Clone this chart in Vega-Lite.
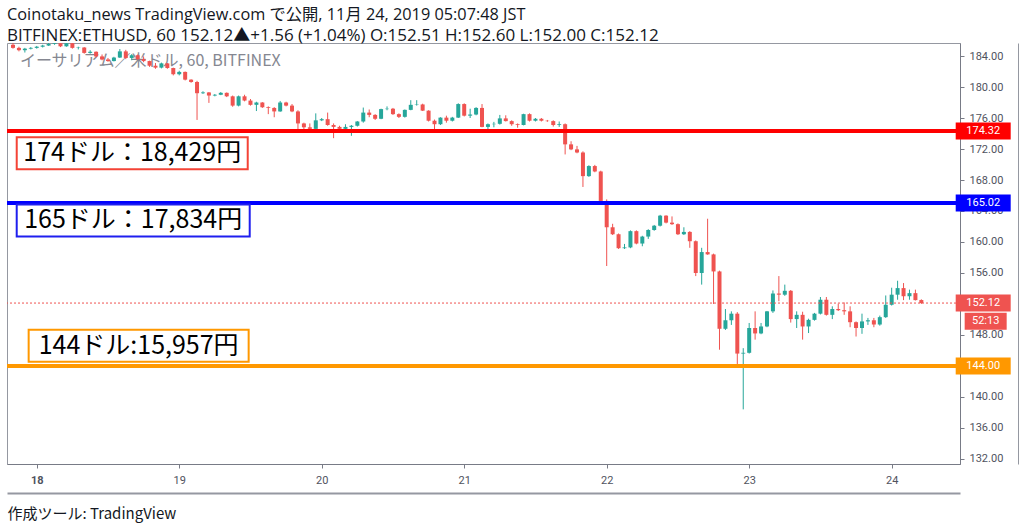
{
"$schema": "https://vega.github.io/schema/vega-lite/v6.json",
"width": 953, "height": 421,
"autosize": {"type": "none"},
"padding": {"left": 7, "top": 43, "right": 64, "bottom": 66},
"background": "white",
"title": {"text": "Coinotaku_news TradingView.com で公開, 11月 24, 2019 05:07:48 JST", "subtitle": "BITFINEX:ETHUSD, 60 152.12▲+1.56 (+1.04%) O:152.51 H:152.60 L:152.00 C:152.12", "anchor": "start", "frame": "group", "font": "Open Sans, Noto Sans CJK JP", "fontSize": 16.3, "fontWeight": "normal", "color": "#131722", "subtitleFont": "Open Sans, Noto Sans CJK JP", "subtitleFontSize": 17, "subtitleColor": "#131722", "subtitlePadding": 5, "offset": -1},
"datasets": {
"candles": [
{"t":"2019-11-17T20:00:00Z","open":185.45,"high":185.7,"low":184.95,"close":185.05},
{"t":"2019-11-17T21:00:00Z","open":185.05,"high":185.2,"low":184.6,"close":184.75},
{"t":"2019-11-17T22:00:00Z","open":184.75,"high":185.05,"low":184.45,"close":184.95},
{"t":"2019-11-17T23:00:00Z","open":184.95,"high":185.15,"low":184.85,"close":185.05},
{"t":"2019-11-18T00:00:00Z","open":185.05,"high":185.3,"low":184.95,"close":185.2},
{"t":"2019-11-18T01:00:00Z","open":185.2,"high":185.45,"low":185.1,"close":185.35},
{"t":"2019-11-18T02:00:00Z","open":185.35,"high":185.7,"low":185.3,"close":185.55},
{"t":"2019-11-18T03:00:00Z","open":185.55,"high":185.8,"low":185.45,"close":185.65},
{"t":"2019-11-18T04:00:00Z","open":185.65,"high":185.8,"low":185.15,"close":185.25},
{"t":"2019-11-18T05:00:00Z","open":185.25,"high":185.8,"low":185.2,"close":185.65},
{"t":"2019-11-18T06:00:00Z","open":185.65,"high":185.75,"low":184.95,"close":185.05},
{"t":"2019-11-18T07:00:00Z","open":185.05,"high":185.2,"low":184.85,"close":185.1},
{"t":"2019-11-18T08:00:00Z","open":185.1,"high":185.15,"low":184.3,"close":184.4},
{"t":"2019-11-18T09:00:00Z","open":184.4,"high":184.75,"low":184.3,"close":184.55},
{"t":"2019-11-18T10:00:00Z","open":184.55,"high":184.6,"low":183.8,"close":183.95},
{"t":"2019-11-18T11:00:00Z","open":183.95,"high":184.2,"low":183.45,"close":183.55},
{"t":"2019-11-18T12:00:00Z","open":183.55,"high":183.75,"low":183.25,"close":183.35},
{"t":"2019-11-18T13:00:00Z","open":183.35,"high":183.9,"low":183.3,"close":183.8},
{"t":"2019-11-18T14:00:00Z","open":183.8,"high":184.9,"low":183.75,"close":184.6},
{"t":"2019-11-18T15:00:00Z","open":184.6,"high":184.8,"low":183.6,"close":183.75},
{"t":"2019-11-18T16:00:00Z","open":183.75,"high":184.25,"low":183.45,"close":184.1},
{"t":"2019-11-18T17:00:00Z","open":184.1,"high":184.2,"low":183.5,"close":183.6},
{"t":"2019-11-18T18:00:00Z","open":183.6,"high":183.95,"low":183.2,"close":183.35},
{"t":"2019-11-18T19:00:00Z","open":183.35,"high":183.4,"low":182.6,"close":182.75},
{"t":"2019-11-18T20:00:00Z","open":182.75,"high":183.1,"low":182.35,"close":182.5},
{"t":"2019-11-18T21:00:00Z","open":182.5,"high":183.15,"low":182.4,"close":183.05},
{"t":"2019-11-18T22:00:00Z","open":183.05,"high":183.1,"low":182.35,"close":182.45},
{"t":"2019-11-18T23:00:00Z","open":182.45,"high":182.5,"low":181.5,"close":181.65},
{"t":"2019-11-19T00:00:00Z","open":181.65,"high":182.1,"low":181.5,"close":181.95},
{"t":"2019-11-19T01:00:00Z","open":181.95,"high":182.0,"low":180.85,"close":180.95},
{"t":"2019-11-19T02:00:00Z","open":180.95,"high":181.0,"low":180.55,"close":180.65},
{"t":"2019-11-19T03:00:00Z","open":180.65,"high":180.8,"low":175.75,"close":179.2},
{"t":"2019-11-19T04:00:00Z","open":179.2,"high":179.45,"low":179.1,"close":179.3},
{"t":"2019-11-19T05:00:00Z","open":179.3,"high":179.35,"low":177.95,"close":178.9},
{"t":"2019-11-19T06:00:00Z","open":178.9,"high":179.1,"low":178.8,"close":179.0},
{"t":"2019-11-19T07:00:00Z","open":179.0,"high":179.35,"low":178.95,"close":179.25},
{"t":"2019-11-19T08:00:00Z","open":179.25,"high":179.3,"low":178.7,"close":178.8},
{"t":"2019-11-19T09:00:00Z","open":178.8,"high":178.9,"low":177.45,"close":177.6},
{"t":"2019-11-19T10:00:00Z","open":177.6,"high":178.9,"low":177.5,"close":178.8},
{"t":"2019-11-19T11:00:00Z","open":178.8,"high":179.0,"low":178.15,"close":178.25},
{"t":"2019-11-19T12:00:00Z","open":178.25,"high":178.45,"low":177.6,"close":177.7},
{"t":"2019-11-19T13:00:00Z","open":177.7,"high":178.1,"low":176.9,"close":178.0},
{"t":"2019-11-19T14:00:00Z","open":178.0,"high":178.05,"low":177.3,"close":177.4},
{"t":"2019-11-19T15:00:00Z","open":177.4,"high":177.5,"low":176.5,"close":177.3},
{"t":"2019-11-19T16:00:00Z","open":177.3,"high":177.4,"low":176.1,"close":176.85},
{"t":"2019-11-19T17:00:00Z","open":176.85,"high":178.2,"low":176.8,"close":178.0},
{"t":"2019-11-19T18:00:00Z","open":178.0,"high":178.1,"low":177.5,"close":177.6},
{"t":"2019-11-19T19:00:00Z","open":177.6,"high":177.8,"low":176.75,"close":176.85},
{"t":"2019-11-19T20:00:00Z","open":176.85,"high":177.0,"low":174.35,"close":175.3},
{"t":"2019-11-19T21:00:00Z","open":175.3,"high":175.4,"low":174.35,"close":174.8},
{"t":"2019-11-19T22:00:00Z","open":174.8,"high":175.3,"low":174.35,"close":174.6},
{"t":"2019-11-19T23:00:00Z","open":174.6,"high":176.6,"low":174.5,"close":175.7},
{"t":"2019-11-20T00:00:00Z","open":175.7,"high":176.0,"low":175.6,"close":175.85},
{"t":"2019-11-20T01:00:00Z","open":175.85,"high":176.7,"low":175.0,"close":175.1},
{"t":"2019-11-20T02:00:00Z","open":175.1,"high":175.3,"low":173.4,"close":174.85},
{"t":"2019-11-20T03:00:00Z","open":174.85,"high":175.0,"low":174.45,"close":174.6},
{"t":"2019-11-20T04:00:00Z","open":174.6,"high":175.2,"low":174.5,"close":174.85},
{"t":"2019-11-20T05:00:00Z","open":174.85,"high":175.1,"low":173.7,"close":175.0},
{"t":"2019-11-20T06:00:00Z","open":175.0,"high":175.6,"low":174.9,"close":175.55},
{"t":"2019-11-20T07:00:00Z","open":175.55,"high":177.35,"low":175.4,"close":176.7},
{"t":"2019-11-20T08:00:00Z","open":176.7,"high":177.1,"low":176.1,"close":176.4},
{"t":"2019-11-20T09:00:00Z","open":176.4,"high":176.5,"low":175.75,"close":175.9},
{"t":"2019-11-20T10:00:00Z","open":175.9,"high":177.2,"low":175.85,"close":177.15},
{"t":"2019-11-20T11:00:00Z","open":177.15,"high":177.5,"low":177.0,"close":177.2},
{"t":"2019-11-20T12:00:00Z","open":177.2,"high":177.3,"low":176.4,"close":176.5},
{"t":"2019-11-20T13:00:00Z","open":176.5,"high":176.6,"low":176.0,"close":176.15},
{"t":"2019-11-20T14:00:00Z","open":176.15,"high":177.1,"low":176.05,"close":177.05},
{"t":"2019-11-20T15:00:00Z","open":177.05,"high":178.3,"low":177.0,"close":177.7},
{"t":"2019-11-20T16:00:00Z","open":177.7,"high":178.3,"low":177.6,"close":177.75},
{"t":"2019-11-20T17:00:00Z","open":177.75,"high":177.85,"low":176.9,"close":176.95},
{"t":"2019-11-20T18:00:00Z","open":176.95,"high":177.0,"low":175.55,"close":175.65},
{"t":"2019-11-20T19:00:00Z","open":175.65,"high":175.8,"low":174.55,"close":175.2},
{"t":"2019-11-20T20:00:00Z","open":175.2,"high":176.1,"low":175.1,"close":176.05},
{"t":"2019-11-20T21:00:00Z","open":176.05,"high":176.3,"low":175.4,"close":175.65},
{"t":"2019-11-20T22:00:00Z","open":175.65,"high":176.15,"low":175.55,"close":176.05},
{"t":"2019-11-20T23:00:00Z","open":176.05,"high":177.9,"low":176.0,"close":177.8},
{"t":"2019-11-21T00:00:00Z","open":177.8,"high":177.9,"low":176.2,"close":176.3},
{"t":"2019-11-21T01:00:00Z","open":176.3,"high":177.2,"low":176.0,"close":176.45},
{"t":"2019-11-21T02:00:00Z","open":176.45,"high":177.4,"low":176.35,"close":177.3},
{"t":"2019-11-21T03:00:00Z","open":177.3,"high":177.8,"low":174.8,"close":174.85},
{"t":"2019-11-21T04:00:00Z","open":174.85,"high":175.3,"low":174.1,"close":175.2},
{"t":"2019-11-21T05:00:00Z","open":175.2,"high":175.5,"low":174.8,"close":175.25},
{"t":"2019-11-21T06:00:00Z","open":175.25,"high":176.4,"low":175.15,"close":175.95},
{"t":"2019-11-21T07:00:00Z","open":175.95,"high":176.35,"low":175.55,"close":175.6},
{"t":"2019-11-21T08:00:00Z","open":175.6,"high":175.7,"low":175.0,"close":175.2},
{"t":"2019-11-21T09:00:00Z","open":175.2,"high":175.3,"low":174.75,"close":175.1},
{"t":"2019-11-21T10:00:00Z","open":175.1,"high":176.55,"low":175.05,"close":176.5},
{"t":"2019-11-21T11:00:00Z","open":176.5,"high":176.6,"low":175.55,"close":175.65},
{"t":"2019-11-21T12:00:00Z","open":175.65,"high":176.0,"low":175.55,"close":175.9},
{"t":"2019-11-21T13:00:00Z","open":175.9,"high":176.0,"low":175.55,"close":175.65},
{"t":"2019-11-21T14:00:00Z","open":175.65,"high":175.75,"low":175.5,"close":175.6},
{"t":"2019-11-21T15:00:00Z","open":175.6,"high":175.7,"low":174.9,"close":175.1},
{"t":"2019-11-21T16:00:00Z","open":175.1,"high":175.55,"low":174.85,"close":175.2},
{"t":"2019-11-21T17:00:00Z","open":175.2,"high":175.3,"low":171.3,"close":172.6},
{"t":"2019-11-21T18:00:00Z","open":172.6,"high":173.0,"low":171.85,"close":171.95},
{"t":"2019-11-21T19:00:00Z","open":171.95,"high":172.4,"low":171.45,"close":171.55},
{"t":"2019-11-21T20:00:00Z","open":171.55,"high":171.7,"low":167.1,"close":168.5},
{"t":"2019-11-21T21:00:00Z","open":168.5,"high":169.9,"low":168.4,"close":169.8},
{"t":"2019-11-21T22:00:00Z","open":169.8,"high":169.95,"low":169.0,"close":169.1},
{"t":"2019-11-21T23:00:00Z","open":169.1,"high":169.2,"low":164.8,"close":165.3},
{"t":"2019-11-22T00:00:00Z","open":165.3,"high":165.5,"low":156.9,"close":161.9},
{"t":"2019-11-22T01:00:00Z","open":161.9,"high":162.35,"low":160.9,"close":161.0},
{"t":"2019-11-22T02:00:00Z","open":161.0,"high":161.1,"low":159.1,"close":159.2},
{"t":"2019-11-22T03:00:00Z","open":159.2,"high":159.75,"low":159.1,"close":159.3},
{"t":"2019-11-22T04:00:00Z","open":159.3,"high":161.5,"low":159.2,"close":161.4},
{"t":"2019-11-22T05:00:00Z","open":161.4,"high":161.5,"low":159.7,"close":159.8},
{"t":"2019-11-22T06:00:00Z","open":159.8,"high":160.8,"low":159.45,"close":160.7},
{"t":"2019-11-22T07:00:00Z","open":160.7,"high":161.65,"low":160.4,"close":161.55},
{"t":"2019-11-22T08:00:00Z","open":161.55,"high":162.2,"low":161.45,"close":162.1},
{"t":"2019-11-22T09:00:00Z","open":162.1,"high":163.5,"low":162.0,"close":163.4},
{"t":"2019-11-22T10:00:00Z","open":163.4,"high":163.45,"low":162.4,"close":162.5},
{"t":"2019-11-22T11:00:00Z","open":162.5,"high":163.3,"low":162.2,"close":162.3},
{"t":"2019-11-22T12:00:00Z","open":162.3,"high":162.4,"low":160.9,"close":161.0},
{"t":"2019-11-22T13:00:00Z","open":161.0,"high":161.9,"low":160.9,"close":161.3},
{"t":"2019-11-22T14:00:00Z","open":161.3,"high":161.4,"low":159.25,"close":160.1},
{"t":"2019-11-22T15:00:00Z","open":160.1,"high":160.2,"low":155.6,"close":156.0},
{"t":"2019-11-22T16:00:00Z","open":156.0,"high":159.25,"low":154.5,"close":158.7},
{"t":"2019-11-22T17:00:00Z","open":158.7,"high":163.0,"low":158.35,"close":158.4},
{"t":"2019-11-22T18:00:00Z","open":158.4,"high":158.5,"low":152.0,"close":156.2},
{"t":"2019-11-22T19:00:00Z","open":156.2,"high":156.3,"low":146.1,"close":148.8},
{"t":"2019-11-22T20:00:00Z","open":148.8,"high":151.35,"low":148.65,"close":149.9},
{"t":"2019-11-22T21:00:00Z","open":149.9,"high":151.05,"low":149.3,"close":150.75},
{"t":"2019-11-22T22:00:00Z","open":150.75,"high":150.95,"low":144.15,"close":145.6},
{"t":"2019-11-22T23:00:00Z","open":145.6,"high":146.3,"low":138.4,"close":145.7},
{"t":"2019-11-23T00:00:00Z","open":145.7,"high":149.55,"low":145.6,"close":148.9},
{"t":"2019-11-23T01:00:00Z","open":148.9,"high":151.05,"low":147.4,"close":148.2},
{"t":"2019-11-23T02:00:00Z","open":148.2,"high":149.55,"low":148.1,"close":149.1},
{"t":"2019-11-23T03:00:00Z","open":149.1,"high":151.1,"low":149.0,"close":151.05},
{"t":"2019-11-23T04:00:00Z","open":151.05,"high":153.75,"low":150.85,"close":153.35},
{"t":"2019-11-23T05:00:00Z","open":153.35,"high":155.6,"low":152.35,"close":153.2},
{"t":"2019-11-23T06:00:00Z","open":153.2,"high":154.5,"low":153.05,"close":153.7},
{"t":"2019-11-23T07:00:00Z","open":153.7,"high":153.8,"low":149.6,"close":150.05},
{"t":"2019-11-23T08:00:00Z","open":150.05,"high":151.05,"low":148.9,"close":150.6},
{"t":"2019-11-23T09:00:00Z","open":150.6,"high":151.0,"low":147.4,"close":149.1},
{"t":"2019-11-23T10:00:00Z","open":149.1,"high":150.1,"low":148.25,"close":149.95},
{"t":"2019-11-23T11:00:00Z","open":149.95,"high":150.85,"low":149.85,"close":150.75},
{"t":"2019-11-23T12:00:00Z","open":150.75,"high":152.9,"low":150.65,"close":152.55},
{"t":"2019-11-23T13:00:00Z","open":152.55,"high":152.9,"low":150.5,"close":150.6},
{"t":"2019-11-23T14:00:00Z","open":150.6,"high":151.7,"low":150.05,"close":151.35},
{"t":"2019-11-23T15:00:00Z","open":151.35,"high":152.05,"low":151.1,"close":151.2},
{"t":"2019-11-23T16:00:00Z","open":151.2,"high":152.2,"low":150.6,"close":151.05},
{"t":"2019-11-23T17:00:00Z","open":151.05,"high":151.7,"low":149.0,"close":149.65},
{"t":"2019-11-23T18:00:00Z","open":149.65,"high":149.75,"low":147.8,"close":148.9},
{"t":"2019-11-23T19:00:00Z","open":148.9,"high":150.75,"low":148.15,"close":149.75},
{"t":"2019-11-23T20:00:00Z","open":149.75,"high":150.2,"low":149.3,"close":149.9},
{"t":"2019-11-23T21:00:00Z","open":149.9,"high":150.2,"low":149.0,"close":149.35},
{"t":"2019-11-23T22:00:00Z","open":149.35,"high":150.5,"low":149.2,"close":150.3},
{"t":"2019-11-23T23:00:00Z","open":150.3,"high":153.1,"low":150.2,"close":151.9},
{"t":"2019-11-24T00:00:00Z","open":151.9,"high":154.1,"low":151.8,"close":153.2},
{"t":"2019-11-24T01:00:00Z","open":153.2,"high":155.0,"low":152.55,"close":154.05},
{"t":"2019-11-24T02:00:00Z","open":154.05,"high":154.7,"low":152.5,"close":153.0},
{"t":"2019-11-24T03:00:00Z","open":153.0,"high":153.85,"low":152.55,"close":153.4},
{"t":"2019-11-24T04:00:00Z","open":153.4,"high":153.85,"low":152.45,"close":152.5},
{"t":"2019-11-24T05:00:00Z","open":152.51,"high":152.6,"low":152.0,"close":152.12}
]
},
"encoding": {
  "x": {"type": "temporal",
    "scale": {"type": "utc", "domain": [{"year": 2019, "month": 11, "date": 17, "hours": 19, "minutes": 50, "utc": true}, {"year": 2019, "month": 11, "date": 24, "hours": 10, "minutes": 40, "utc": true}]},
    "axis": null},
  "y": {"type": "quantitative",
    "scale": {"domain": [131.35, 185.68], "nice": false, "zero": false},
    "axis": null}
},
"resolve": {"axis": {"x": "independent", "y": "independent"}},
"layer": [
{"data": {"values": [{"t": "2019-11-17T21:10:00Z", "price": 183.35, "label": "イーサリアム／米ドル, 60, BITFINEX"}]},
 "mark": {"type": "text", "font": "Noto Sans CJK JP", "fontSize": 16, "color": "#787b86", "opacity": 0.9, "align": "left", "baseline": "middle"},
 "encoding": {
  "x": {"field": "t", "type": "temporal", "axis": {"orient": "bottom", "offset": 29, "labels": false, "ticks": false, "grid": false, "title": null, "domainColor": "#9598a1", "domainWidth": 2}},
  "y": {"field": "price", "type": "quantitative", "axis": {"orient": "right", "offset": 58, "labels": false, "ticks": false, "grid": false, "title": null, "domainColor": "#9598a1", "domainWidth": 1}},
  "text": {"field": "label"}}},
{"data": {"name": "candles"},
 "mark": {"type": "rule", "clip": true, "strokeWidth": 1},
 "encoding": {
  "x": {"field": "t", "type": "temporal",
    "axis": {"orient": "bottom", "values": [{"year": 2019, "month": 11, "date": 18, "utc": true}, {"year": 2019, "month": 11, "date": 19, "utc": true}, {"year": 2019, "month": 11, "date": 20, "utc": true}, {"year": 2019, "month": 11, "date": 21, "utc": true}, {"year": 2019, "month": 11, "date": 22, "utc": true}, {"year": 2019, "month": 11, "date": 23, "utc": true}, {"year": 2019, "month": 11, "date": 24, "utc": true}],
      "labelExpr": "utcFormat(datum.value, '%-d')",
      "labelFontWeight": {"condition": {"test": "utcdate(datum.value) === 18", "value": "bold"}, "value": "normal"},
      "title": "作成ツール: TradingView", "titleAnchor": "start", "titleAlign": "left", "titleFont": "Noto Sans CJK JP", "titleFontSize": 15, "titleFontWeight": "normal", "titleColor": "#131722", "titlePadding": 21,
      "labelFont": "Roboto", "labelFontSize": 11, "labelColor": "#50535e", "labelPadding": 6, "labelOverlap": false,
      "tickSize": 4, "tickColor": "#787b86", "domainColor": "#787b86", "gridColor": "#e9eef3"}},
  "y": {"field": "low", "type": "quantitative",
    "axis": {"orient": "right", "values": [132, 136, 140, 148, 156, 160, 164, 168, 172, 176, 180, 184], "format": ".2f", "title": null,
      "labelFont": "Roboto", "labelFontSize": 11, "labelColor": "#50535e", "labelPadding": 5, "labelOverlap": false, "labelSeparation": 0,
      "tickSize": 4, "tickColor": "#787b86", "domainColor": "#787b86", "gridColor": "#e9eef3"}},
  "y2": {"field": "high"},
  "color": {"condition": {"test": "datum.close >= datum.open", "value": "#26a69a"}, "value": "#ef5350"}
 }},
{"data": {"name": "candles"},
 "mark": {"type": "bar", "clip": true, "width": 4},
 "encoding": {
  "x": {"field": "t", "type": "temporal", "axis": null},
  "y": {"field": "open", "type": "quantitative", "axis": null},
  "y2": {"field": "close"},
  "color": {"condition": {"test": "datum.close >= datum.open", "value": "#26a69a"}, "value": "#ef5350"}
 }},
{"data": {"values": [{"price": 152.12}]},
 "mark": {"type": "rule", "color": "#ef5350", "strokeWidth": 1, "strokeDash": [2, 2]},
 "encoding": {"x": null, "y": {"field": "price", "type": "quantitative", "axis": null}}},
{"data": {"values": [{"price": 174.32, "lvl": "r"}, {"price": 165.02, "lvl": "b"}, {"price": 144.0, "lvl": "o"}]},
 "mark": {"type": "rule", "strokeWidth": 4},
 "encoding": {"x": null, "y": {"field": "price", "type": "quantitative", "axis": null},
  "color": {"field": "lvl", "type": "nominal", "scale": {"domain": ["r", "b", "o", "p"], "range": ["#ff0000", "#0000ff", "#ff9800", "#ef5350"]}, "legend": null}}},
{"data": {"values": [{"t": "2019-11-18T16:05:00Z", "price": 171.45}]},
 "mark": {"type": "tick", "orient": "vertical", "thickness": 231, "size": 32, "filled": true, "fill": "#ffffff", "stroke": "#f44336", "strokeWidth": 2, "opacity": 1},
 "encoding": {"x": {"field": "t", "type": "temporal", "axis": null}, "y": {"field": "price", "type": "quantitative", "axis": null}}},
{"data": {"values": [{"t": "2019-11-18T16:15:00Z", "price": 162.78}]},
 "mark": {"type": "tick", "orient": "vertical", "thickness": 233, "size": 32, "filled": true, "fill": "#ffffff", "stroke": "#1f1fef", "strokeWidth": 2, "opacity": 1},
 "encoding": {"x": {"field": "t", "type": "temporal", "axis": null}, "y": {"field": "price", "type": "quantitative", "axis": null}}},
{"data": {"values": [{"t": "2019-11-18T17:10:00Z", "price": 146.61}]},
 "mark": {"type": "tick", "orient": "vertical", "thickness": 220, "size": 32, "filled": true, "fill": "#ffffff", "stroke": "#ff9800", "strokeWidth": 2, "opacity": 1},
 "encoding": {"x": {"field": "t", "type": "temporal", "axis": null}, "y": {"field": "price", "type": "quantitative", "axis": null}}},
{"data": {"values": [
  {"t": "2019-11-18T16:05:00Z", "price": 171.45, "label": "174ドル：18,429円"},
  {"t": "2019-11-18T16:15:00Z", "price": 162.78, "label": "165ドル：17,834円"},
  {"t": "2019-11-18T17:10:00Z", "price": 146.61, "label": "144ドル:15,957円"}]},
 "mark": {"type": "text", "font": "Noto Sans CJK JP", "fontSize": 25, "color": "#000000", "align": "center", "baseline": "middle"},
 "encoding": {"x": {"field": "t", "type": "temporal", "axis": null}, "y": {"field": "price", "type": "quantitative", "axis": null}, "text": {"field": "label"}}},
{"data": {"values": [{"price": 174.32, "lvl": "r", "tag": "174.32"}, {"price": 165.02, "lvl": "b", "tag": "165.02"}, {"price": 152.12, "lvl": "p", "tag": "152.12"}, {"price": 144.0, "lvl": "o", "tag": "144.00"}]},
 "mark": {"type": "tick", "orient": "vertical", "thickness": 55, "size": 17, "opacity": 1},
 "encoding": {"x": {"datum": {"year": 2019, "month": 11, "date": 24, "hours": 15, "minutes": 25, "utc": true}, "type": "temporal", "axis": null},
  "y": {"field": "price", "type": "quantitative", "axis": null},
  "color": {"field": "lvl", "type": "nominal", "scale": {"domain": ["r", "b", "o", "p"], "range": ["#ff0000", "#0000ff", "#ff9800", "#ef5350"]}, "legend": null}}},
{"data": {"values": [{"price": 174.32, "tag": "174.32"}, {"price": 165.02, "tag": "165.02"}, {"price": 152.12, "tag": "152.12"}, {"price": 144.0, "tag": "144.00"}]},
 "mark": {"type": "text", "font": "Roboto", "fontSize": 11, "color": "#ffffff", "align": "center", "baseline": "middle"},
 "encoding": {"x": {"datum": {"year": 2019, "month": 11, "date": 24, "hours": 15, "minutes": 25, "utc": true}, "type": "temporal", "axis": null},
  "y": {"field": "price", "type": "quantitative", "axis": null}, "text": {"field": "tag"}}},
{"data": {"values": [{"price": 149.78, "lvl": "p", "tag": "52:13"}]},
 "mark": {"type": "tick", "orient": "vertical", "thickness": 42, "size": 17, "opacity": 1},
 "encoding": {"x": {"datum": {"year": 2019, "month": 11, "date": 24, "hours": 15, "minutes": 50, "utc": true}, "type": "temporal", "axis": null},
  "y": {"field": "price", "type": "quantitative", "axis": null},
  "color": {"field": "lvl", "type": "nominal", "scale": {"domain": ["r", "b", "o", "p"], "range": ["#ff0000", "#0000ff", "#ff9800", "#ef5350"]}, "legend": null}}},
{"data": {"values": [{"price": 149.78, "tag": "52:13"}]},
 "mark": {"type": "text", "font": "Roboto", "fontSize": 11, "color": "#ffffff", "align": "center", "baseline": "middle"},
 "encoding": {"x": {"datum": {"year": 2019, "month": 11, "date": 24, "hours": 15, "minutes": 50, "utc": true}, "type": "temporal", "axis": null},
  "y": {"field": "price", "type": "quantitative", "axis": null}, "text": {"field": "tag"}}}
],
"config": {"view": {"stroke": "#9598a1", "strokeWidth": 1}, "font": "Roboto", "axis": {"labelOverlap": false}}
}
